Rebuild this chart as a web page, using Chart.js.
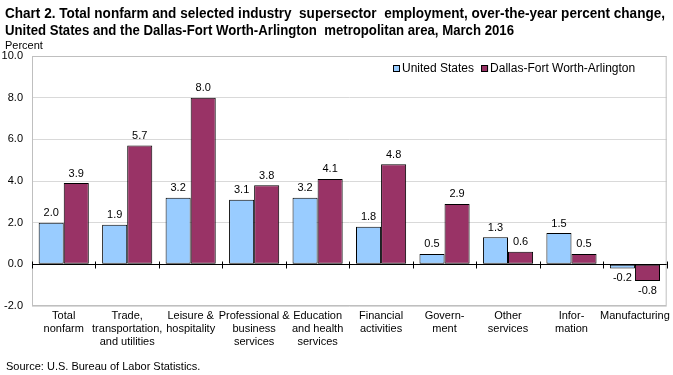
<!DOCTYPE html>
<html>
<head>
<meta charset="utf-8">
<script src="https://cdn.jsdelivr.net/npm/chart.js@4"></script>
<style>
  html, body { margin: 0; padding: 0; background: #fff; }
  #wrap { width: 673px; height: 375px; position: relative; }
</style>
</head>
<body>
<div id="wrap"><canvas id="chart"></canvas></div>
<script>
// --- data ---
const categories = [
  ["Total", "nonfarm"],
  ["Trade,", "transportation,", "and utilities"],
  ["Leisure &", "hospitality"],
  ["Professional &", "business", "services"],
  ["Education", "and health", "services"],
  ["Financial", "activities"],
  ["Govern-", "ment"],
  ["Other", "services"],
  ["Infor-", "mation"],
  ["Manufacturing"]
];
const unitedStates = [2.0, 1.9, 3.2, 3.1, 3.2, 1.8, 0.5, 1.3, 1.5, -0.2];
const dallas = [3.9, 5.7, 8.0, 3.8, 4.1, 4.8, 2.9, 0.6, 0.5, -0.8];
const seriesNames = ["United States", "Dallas-Fort Worth-Arlington"];
const seriesColors = ["#99CCFF", "#993366"];

const FONT = "'Liberation Sans', Arial, sans-serif";
const TITLE_FONT = "'Liberation Sans Narrow', 'Arial Narrow', 'Liberation Sans', Arial, sans-serif";

// frame, zero line, ticks, value labels, legend, titles
const decorPlugin = {
  id: "decor",
  beforeDatasetsDraw(chart) {
    const { ctx, chartArea: a } = chart;
    ctx.save();
    ctx.strokeStyle = "#BFBFBF";
    ctx.lineWidth = 1;
    ctx.strokeRect(a.left + 0.5, a.top + 0.5, a.width - 1, a.height - 1);
    ctx.restore();
  },
  afterDatasetsDraw(chart) {
    const { ctx, chartArea: a, scales } = chart;
    const y0 = Math.round(scales.y.getPixelForValue(0)) + 0.5;
    ctx.save();
    ctx.strokeStyle = "#000";
    ctx.lineWidth = 1;
    ctx.beginPath();
    ctx.moveTo(a.left, y0);
    ctx.lineTo(a.right, y0);
    const n = categories.length;
    for (let i = 0; i <= n; i++) {
      const x = Math.round(a.left + a.width * i / n) + 0.5;
      ctx.moveTo(x, y0 - 3);
      ctx.lineTo(x, y0 + 4);
    }
    ctx.stroke();

    // value labels
    ctx.font = "11px " + FONT;
    ctx.fillStyle = "#000";
    ctx.textAlign = "center";
    chart.data.datasets.forEach((ds, di) => {
      const meta = chart.getDatasetMeta(di);
      meta.data.forEach((bar, i) => {
        const v = ds.data[i];
        if (v >= 0) {
          ctx.textBaseline = "bottom";
          ctx.fillText(v.toFixed(1), bar.x, bar.y - 4);
        } else {
          ctx.textBaseline = "top";
          ctx.fillText(v.toFixed(1), bar.x, bar.y + 4);
        }
      });
    });

    // legend
    ctx.font = "12px " + FONT;
    ctx.textAlign = "left";
    ctx.textBaseline = "middle";
    let lx = 393;
    const ly = 69;
    seriesNames.forEach((name, i) => {
      ctx.fillStyle = seriesColors[i];
      ctx.fillRect(lx, ly - 4, 7, 7);
      ctx.strokeStyle = "#000";
      ctx.strokeRect(lx + 0.5, ly - 3.5, 6, 6);
      ctx.fillStyle = "#000";
      ctx.fillText(name, lx + 9, ly);
      lx += 9 + ctx.measureText(name).width + 7;
    });

    // titles (squeezed to the narrow width of the original)
    ctx.font = "bold 15px " + TITLE_FONT;
    ctx.textBaseline = "alphabetic";
    ctx.fillText("Chart 2. Total nonfarm and selected industry  supersector  employment, over-the-year percent change,", 5, 18, 660);
    ctx.fillText("United States and the Dallas-Fort Worth-Arlington  metropolitan area, March 2016", 5, 35, 509);
    ctx.font = "11px " + FONT;
    ctx.fillText("Percent", 5, 49);
    ctx.fillText("Source: U.S. Bureau of Labor Statistics.", 6, 370);
    ctx.restore();
  }
};

new Chart(document.getElementById("chart"), {
  type: "bar",
  data: {
    labels: categories,
    datasets: seriesNames.map((name, i) => ({
      label: name,
      data: i === 0 ? unitedStates : dallas,
      backgroundColor: seriesColors[i],
      borderColor: "#000",
      borderWidth: 1,
      borderSkipped: false,
      categoryPercentage: 0.79,
      barPercentage: 1.0
    }))
  },
  options: {
    responsive: true,
    maintainAspectRatio: false,
    animation: false,
    layout: { padding: { top: 56, left: 0, right: 4, bottom: 0 } },
    plugins: {
      legend: { display: false },
      tooltip: { enabled: false }
    },
    scales: {
      x: {
        grid: { display: false, drawTicks: false },
        border: { display: false },
        ticks: {
          color: "#000",
          font: { family: FONT, size: 11 },
          padding: 3,
          maxRotation: 0,
          autoSkip: false
        },
        afterFit(scale) { scale.height = 69; }
      },
      y: {
        min: -2,
        max: 10,
        grid: { color: "#D9D9D9", drawTicks: false },
        border: { display: false },
        ticks: {
          stepSize: 2,
          color: "#000",
          font: { family: FONT, size: 11 },
          padding: 9,
          callback: v => v.toFixed(1)
        },
        afterFit(scale) { scale.width = 32; }
      }
    }
  },
  plugins: [decorPlugin]
});
</script>
</body>
</html>
